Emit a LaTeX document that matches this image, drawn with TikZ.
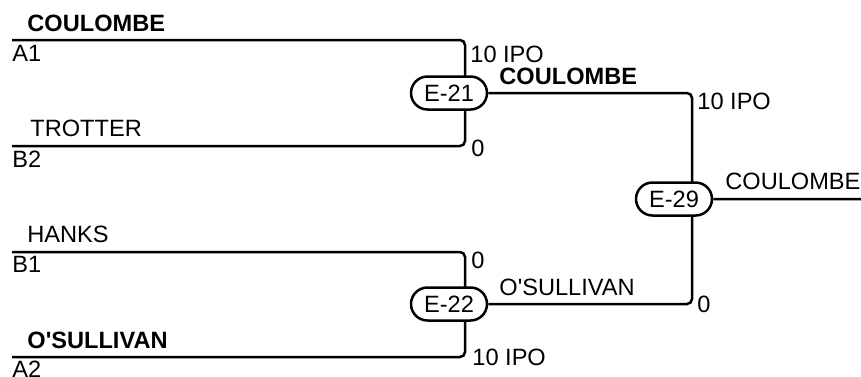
\documentclass[tikz,border=0pt]{standalone}
\usepackage{fontspec}
\setmainfont{Liberation Sans}[Ligatures=TeXReset]
\usetikzlibrary{shapes.misc}

\tikzset{
  wire/.style={line width=1.25pt, rounded corners=2.5pt},
  match/.style={rounded rectangle, draw, line width=1.25pt, fill=white,
    minimum width=38pt, minimum height=16.5pt, inner sep=0pt},
  lbl/.style={anchor=base west, inner sep=0pt},
  win/.style={lbl, font=\fontsize{11.8}{14}\selectfont\bfseries},
}

\begin{document}
\begin{tikzpicture}[x=0.5pt,y=-0.5pt,font=\fontsize{11.8}{14}\selectfont]
  \useasboundingbox (0,0) rectangle (861,376);
  % entry points
  \coordinate (p1) at (12,40);
  \coordinate (p2) at (12,146);
  \coordinate (p3) at (12,252);
  \coordinate (p4) at (12,357);
  \coordinate (j21) at (465,93);
  \coordinate (j22) at (465,304);
  \coordinate (j29) at (692,199);
  \coordinate (out) at (861,199);
  % first round
  \draw[wire] (p1) -| (j21) |- (p2);
  \draw[wire] (p3) -| (j22) |- (p4);
  \node[match] (e21) at (449,93) {E-21};
  \node[match] (e22) at (449,304) {E-22};
  % final
  \draw[wire] (e21) -| (j29) |- (e22);
  \node[match] (e29) at (674,199) {E-29};
  \draw[wire] (e29) -- (out);
  % names and scores
  \node[win] (n1) at (27,31) {COULOMBE};
  \node[lbl] (s1) at (12,61) {A1};
  \node[lbl] (r1) at (470,62) {10 IPO};
  \node[lbl] (n2) at (30,136) {TROTTER};
  \node[lbl] (s2) at (12,167) {B2};
  \node[lbl] (r2) at (471,156) {0};
  \node[lbl] (n3) at (27,242) {HANKS};
  \node[lbl] (s3) at (12,272) {B1};
  \node[lbl] (r3) at (471,268) {0};
  \node[win] (n4) at (27,348) {O'SULLIVAN};
  \node[lbl] (s4) at (12,377) {A2};
  \node[lbl] (r4) at (472,365) {10 IPO};
  \node[win] (w21) at (499,84) {COULOMBE};
  \node[lbl] (q21) at (697,109) {10 IPO};
  \node[lbl] (w22) at (499,295) {O'SULLIVAN};
  \node[lbl] (q22) at (697,312) {0};
  \node[lbl] (w29) at (725,189) {COULOMBE};
\end{tikzpicture}
\end{document}
